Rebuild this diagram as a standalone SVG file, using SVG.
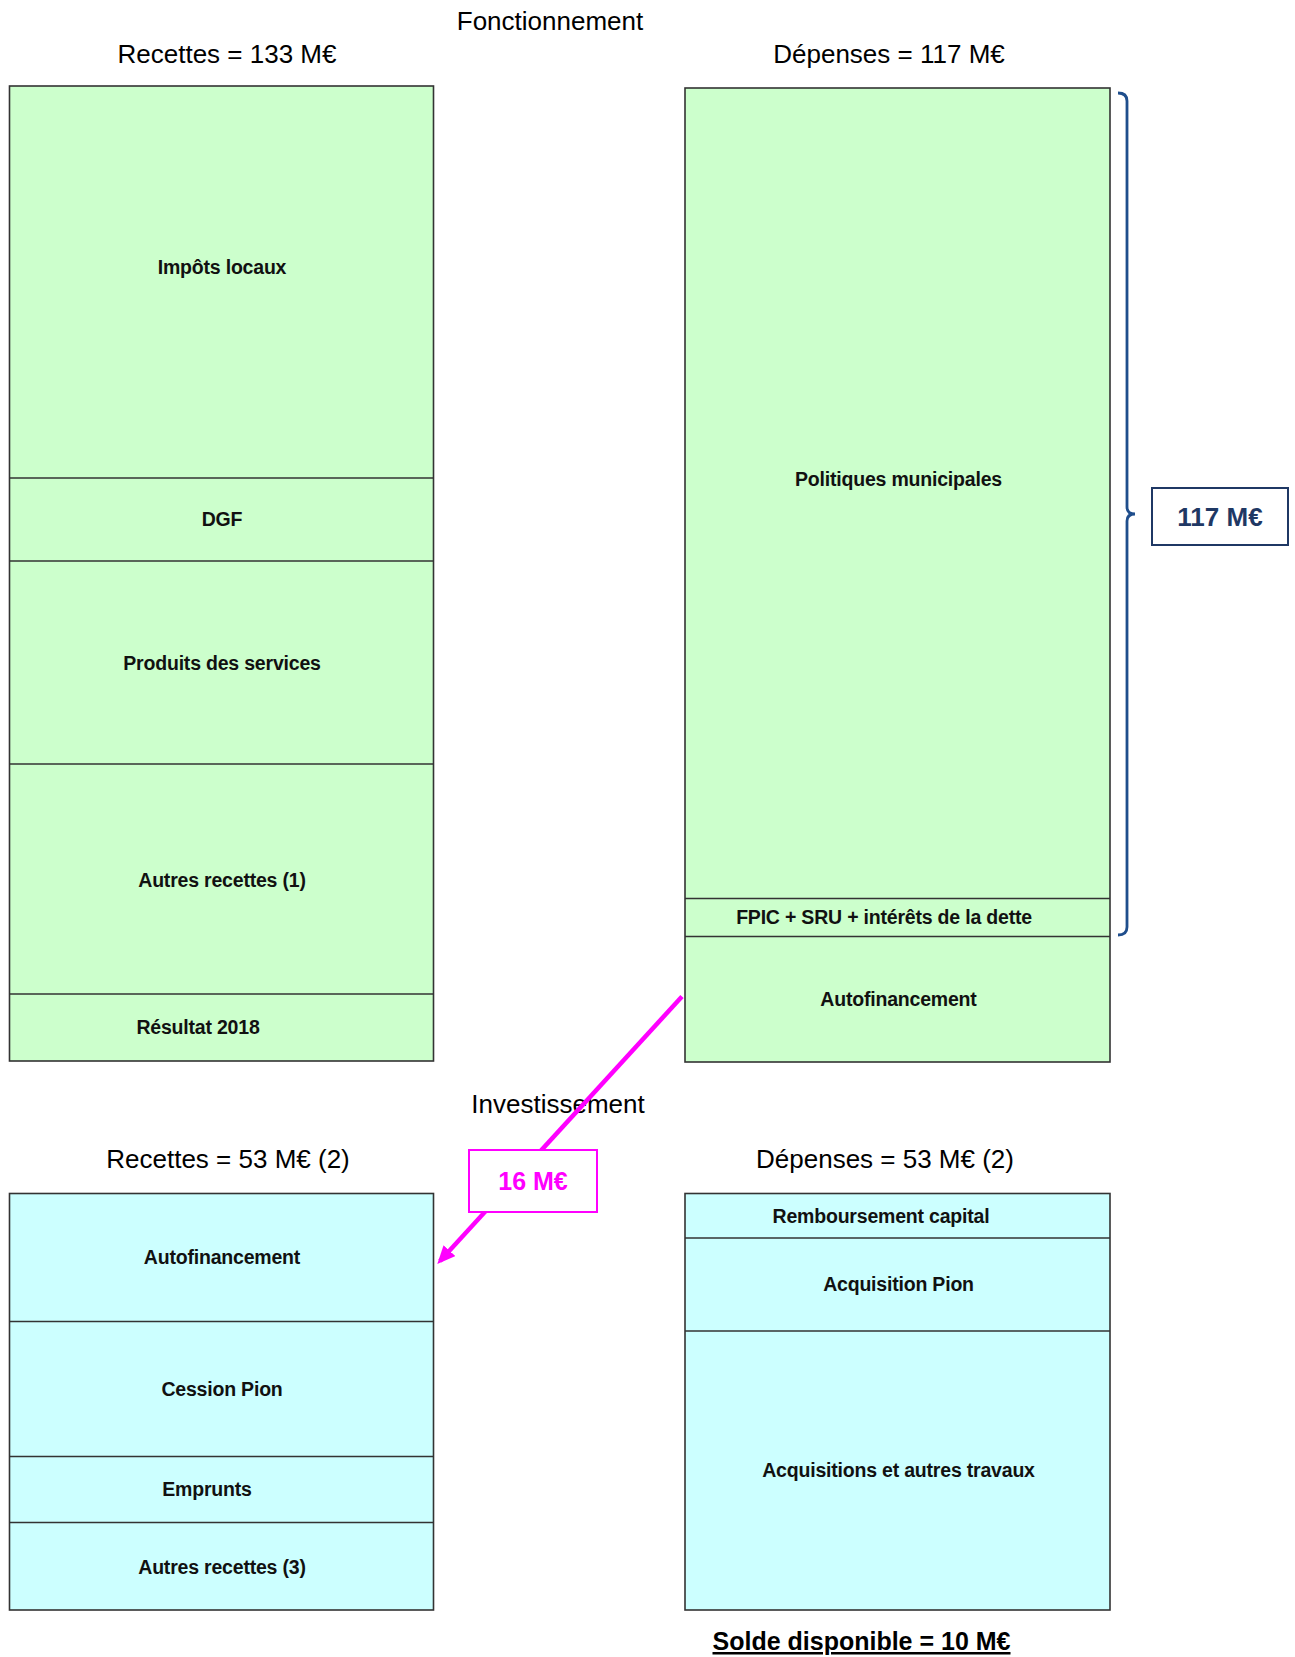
<svg xmlns="http://www.w3.org/2000/svg" width="1295" height="1657" viewBox="0 0 1295 1657">
<defs>
<style>
.title{font-family:"Liberation Sans",Arial,sans-serif;font-size:26px;fill:#000;text-anchor:middle}
.lbl{font-family:"Liberation Sans",Arial,sans-serif;font-size:19.5px;font-weight:bold;fill:#111;text-anchor:middle;letter-spacing:-0.2px}
.green{fill:#CCFFCC;stroke:#333;stroke-width:1.6}
.cyan{fill:#CCFFFF;stroke:#333;stroke-width:1.6}
.div{stroke:#333;stroke-width:1.6}
</style>
<marker id="ah" markerWidth="18" markerHeight="16" refX="14" refY="8" orient="auto" markerUnits="userSpaceOnUse" viewBox="0 0 18 16">
<path d="M0,0 L18,8 L0,16 z" fill="#FF00FF"/>
</marker>
</defs>
<rect width="1295" height="1657" fill="#fff"/>

<text class="title" x="550" y="30">Fonctionnement</text>
<text class="title" x="227" y="63">Recettes = 133 M€</text>
<text class="title" x="889" y="63">Dépenses = 117 M€</text>
<text class="title" x="558" y="1113">Investissement</text>
<text class="title" x="228" y="1168">Recettes = 53 M€ (2)</text>
<text class="title" x="885" y="1168">Dépenses = 53 M€ (2)</text>

<g id="fonct-recettes">
<rect class="green" x="9.5" y="86" width="424" height="975"/>
<line class="div" x1="9.5" y1="478" x2="433.5" y2="478"/>
<line class="div" x1="9.5" y1="561" x2="433.5" y2="561" stroke-width="3"/>
<line class="div" x1="9.5" y1="764" x2="433.5" y2="764"/>
<line class="div" x1="9.5" y1="994" x2="433.5" y2="994"/>
<text class="lbl" x="222" y="274">Impôts locaux</text>
<text class="lbl" x="222" y="526">DGF</text>
<text class="lbl" x="222" y="670">Produits des services</text>
<text class="lbl" x="222" y="887">Autres recettes (1)</text>
<text class="lbl" x="198" y="1034">Résultat 2018</text>
</g>

<g id="fonct-depenses">
<rect class="green" x="685" y="88" width="425" height="974"/>
<line class="div" x1="685" y1="898.5" x2="1110" y2="898.5"/>
<line class="div" x1="685" y1="936.5" x2="1110" y2="936.5"/>
<text class="lbl" x="898.5" y="486">Politiques municipales</text>
<text class="lbl" x="884" y="924">FPIC + SRU + intérêts de la dette</text>
<text class="lbl" x="898.5" y="1006">Autofinancement</text>
</g>

<g id="bracket">
<path d="M1118,93 Q1127,93 1127,101 L1127,507 Q1127,514 1135,514 Q1127,514 1127,521 L1127,927 Q1127,935 1118,935" fill="none" stroke="#1F4E8C" stroke-width="2.8"/>
</g>
<g id="total-117">
<rect x="1152" y="488" width="136" height="57" fill="#fff" stroke="#1F3864" stroke-width="2"/>
<text x="1220" y="526" font-family="Liberation Sans,Arial,sans-serif" font-size="26" font-weight="bold" fill="#1F3864" text-anchor="middle">117 M€</text>
</g>

<g id="invest-recettes">
<rect class="cyan" x="9.5" y="1193.5" width="424" height="416.5"/>
<line class="div" x1="9.5" y1="1321.5" x2="433.5" y2="1321.5"/>
<line class="div" x1="9.5" y1="1456.5" x2="433.5" y2="1456.5"/>
<line class="div" x1="9.5" y1="1522.5" x2="433.5" y2="1522.5"/>
<text class="lbl" x="222" y="1264">Autofinancement</text>
<text class="lbl" x="222" y="1396">Cession Pion</text>
<text class="lbl" x="207" y="1496">Emprunts</text>
<text class="lbl" x="222" y="1574">Autres recettes (3)</text>
</g>

<g id="invest-depenses">
<rect class="cyan" x="685" y="1193.5" width="425" height="416.5"/>
<line class="div" x1="685" y1="1238" x2="1110" y2="1238"/>
<line class="div" x1="685" y1="1331" x2="1110" y2="1331"/>
<text class="lbl" x="881" y="1223">Remboursement capital</text>
<text class="lbl" x="898.5" y="1291">Acquisition Pion</text>
<text class="lbl" x="898.5" y="1477">Acquisitions et autres travaux</text>
</g>

<g id="connectors">
<line x1="682" y1="996.5" x2="440" y2="1261" stroke="#FF00FF" stroke-width="4.5" marker-end="url(#ah)"/>
</g>

<g id="flow-16">
<rect x="469" y="1150" width="128" height="62" fill="#fff" stroke="#FF00FF" stroke-width="2"/>
<text x="533" y="1190" font-family="Liberation Sans,Arial,sans-serif" font-size="25" font-weight="bold" fill="#FF00FF" text-anchor="middle">16 M€</text>
</g>

<g id="solde">
<text x="861.5" y="1650" font-family="Liberation Sans,Arial,sans-serif" font-size="25" font-weight="bold" fill="#000" text-anchor="middle" text-decoration="underline">Solde disponible = 10 M€</text>
</g>
</svg>
